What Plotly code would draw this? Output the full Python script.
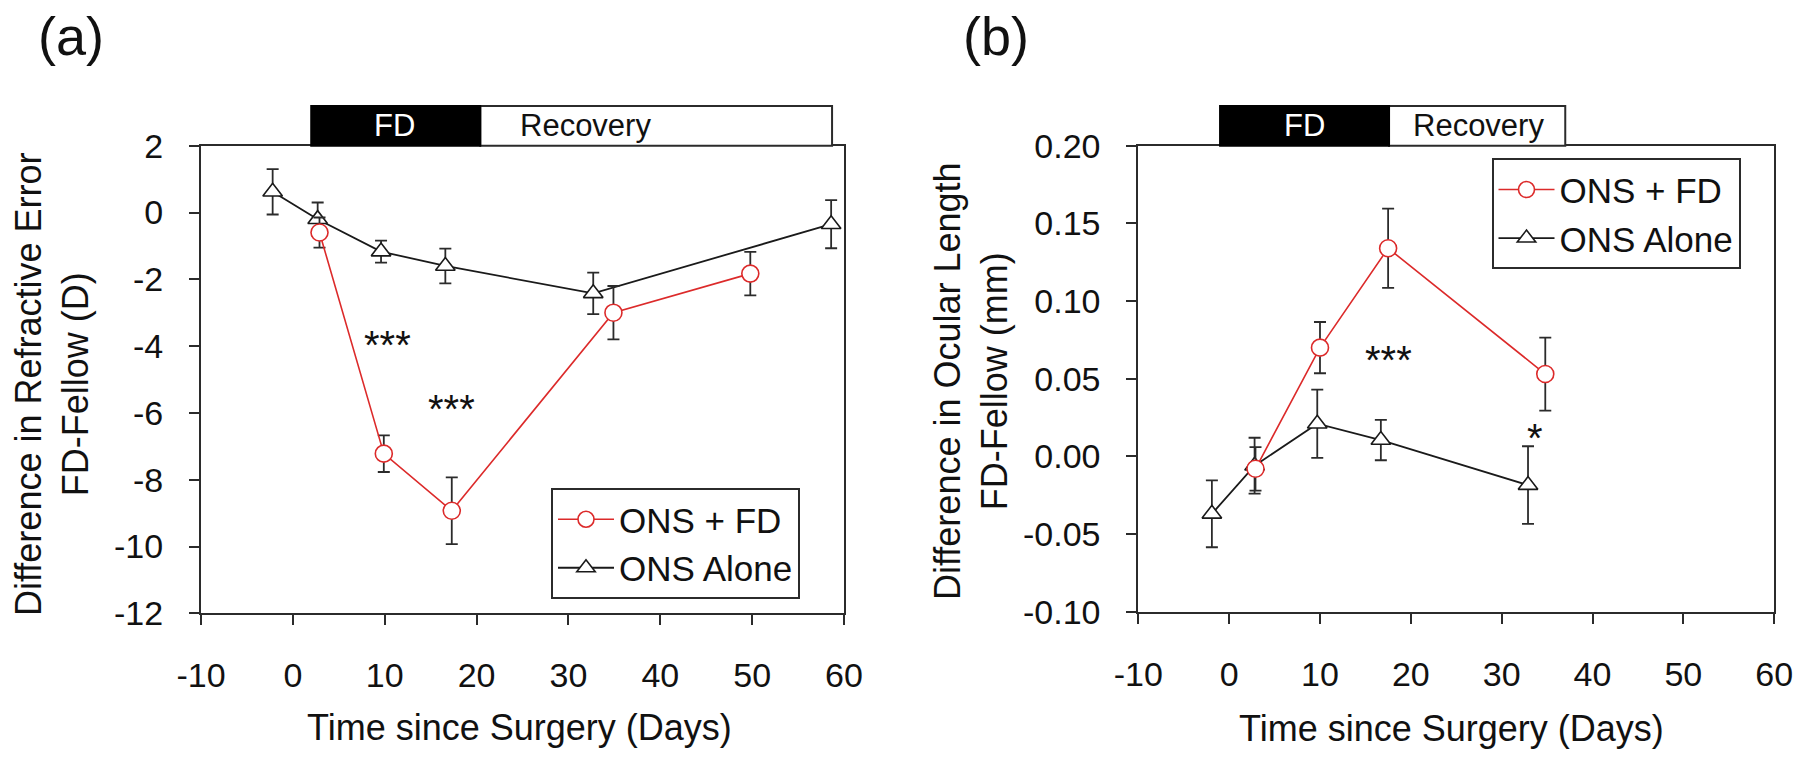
import plotly.graph_objects as go

# ---------------- data ----------------
# Panel (a): refractive error difference (D)
a_fd_days = [2.9, 9.9, 17.3, 34.9, 49.8]
a_fd_vals = [-0.6, -7.22, -8.93, -3.0, -1.83]
a_fd_err = [0.45, 0.55, 1.0, 0.8, 0.65]

a_alone_days = [-2.2, 2.7, 9.6, 16.6, 32.7, 58.6]
a_alone_vals = [0.62, -0.2, -1.17, -1.6, -2.42, -0.35]
a_alone_err = [0.68, 0.5, 0.33, 0.52, 0.62, 0.72]

# Panel (b): ocular length difference (mm)
b_fd_days = [2.9, 10.0, 17.5, 34.8]
b_fd_vals = [-0.008, 0.070, 0.134, 0.053]
b_fd_err = [0.014, 0.0165, 0.0255, 0.0235]

b_alone_days = [-1.9, 2.8, 9.7, 16.7, 32.9]
b_alone_vals = [-0.037, -0.006, 0.021, 0.0105, -0.0185]
b_alone_err = [0.0215, 0.018, 0.022, 0.013, 0.025]

x_ticks = [-10, 0, 10, 20, 30, 40, 50, 60]
x_ticktext = ["-10", "0", "10", "20", "30", "40", "50", "60"]
a_y_ticks = [2, 0, -2, -4, -6, -8, -10, -12]
a_y_ticktext = ["2", "0", "-2", "-4", "-6", "-8", "-10", "-12"]
b_y_ticks = [0.20, 0.15, 0.10, 0.05, 0.00, -0.05, -0.10]
b_y_ticktext = ["0.20", "0.15", "0.10", "0.05", "0.00", "-0.05", "-0.10"]

series_names = ["ONS + FD", "ONS Alone"]

# phase bars (start, end in days)
a_fd_phase = [2.0, 20.4]
a_rec_phase = [20.4, 58.7]
b_fd_phase = [-1.0, 17.6]
b_rec_phase = [17.6, 37.0]

# ---------------- style ----------------
FONT = "Liberation Sans, Arial, Helvetica, sans-serif"
RED = "#dc2a2a"
AX = "#2b2b2b"
W, H = 1800, 765

def px_x(p):
    return p / W

def px_y(p):
    return 1 - p / H

a_xdom = [px_x(201), px_x(844)]
a_ydom = [px_y(613.3), px_y(145.7)]
b_xdom = [px_x(1138.3), px_x(1774.2)]
b_ydom = [px_y(611.7), px_y(145.7)]

fig = go.Figure()

def add_series(xa, ya, leg, fdx, fdy, fde, alx, aly, ale):
    fig.add_trace(go.Scatter(
        x=alx, y=aly, mode="lines+markers", name=series_names[1],
        xaxis=xa, yaxis=ya, legend=leg, legendrank=2,
        line=dict(color="#1a1a1a", width=1.8),
        marker=dict(symbol="triangle-up", size=17, color="white",
                    line=dict(color="#1a1a1a", width=1.6)),
        error_y=dict(type="data", array=ale, color=AX, thickness=1.8, width=6),
    ))
    fig.add_trace(go.Scatter(
        x=fdx, y=fdy, mode="lines+markers", name=series_names[0],
        xaxis=xa, yaxis=ya, legend=leg, legendrank=1,
        line=dict(color=RED, width=1.6),
        marker=dict(symbol="circle", size=17, color="white",
                    line=dict(color=RED, width=1.6)),
        error_y=dict(type="data", array=fde, color=AX, thickness=1.8, width=6),
    ))

add_series("x", "y", "legend", a_fd_days, a_fd_vals, a_fd_err,
           a_alone_days, a_alone_vals, a_alone_err)
add_series("x2", "y2", "legend2", b_fd_days, b_fd_vals, b_fd_err,
           b_alone_days, b_alone_vals, b_alone_err)

common_ax = dict(showline=True, linecolor=AX, linewidth=2, mirror=True,
                 ticks="outside", ticklen=10, tickwidth=2, tickcolor=AX,
                 showgrid=False, zeroline=False, automargin=False,
                 tickfont=dict(family=FONT, size=34, color="#111"))

zero_ax = dict(range=[-10, 60], showline=True, linecolor=AX, linewidth=2,
               ticks="outside", ticklen=9, tickwidth=2, tickcolor=AX,
               tickvals=x_ticks, showticklabels=False, showgrid=False,
               zeroline=False, automargin=False)

leg_common = dict(xanchor="left", yanchor="top", bgcolor="white",
                  bordercolor=AX, borderwidth=2,
                  font=dict(family=FONT, size=35, color="#111"),
                  tracegroupgap=0, itemwidth=56)

fig.update_layout(
    template="none",
    width=W, height=H, autosize=False,
    margin=dict(l=0, r=0, t=0, b=0, pad=0),
    paper_bgcolor="white", plot_bgcolor="white",
    font=dict(family=FONT, color="#111"),
    xaxis=dict(domain=a_xdom, range=[-10, 60], anchor="y",
               tickvals=x_ticks, ticktext=x_ticktext, ticklabelstandoff=21, **common_ax),
    yaxis=dict(domain=a_ydom, range=[-12, 2], anchor="x",
               tickvals=a_y_ticks, ticktext=a_y_ticktext, ticklabelstandoff=19, **common_ax),
    xaxis2=dict(domain=b_xdom, range=[-10, 60], anchor="y2",
                tickvals=x_ticks, ticktext=x_ticktext, ticklabelstandoff=21,
                ticklabeloverflow="allow", **common_ax),
    yaxis2=dict(domain=b_ydom, range=[-0.10, 0.20], anchor="x2",
                tickvals=b_y_ticks, ticktext=b_y_ticktext, ticklabelstandoff=19, **common_ax),
    # zero lines with hanging ticks
    xaxis3=dict(overlaying="x", anchor="free", domain=a_xdom,
                position=a_ydom[0] + (0 - (-12)) / 14 * (a_ydom[1] - a_ydom[0]),
                **zero_ax),
    xaxis4=dict(overlaying="x2", anchor="free", domain=b_xdom,
                position=b_ydom[0] + (0 - (-0.10)) / 0.30 * (b_ydom[1] - b_ydom[0]),
                **zero_ax),
    legend=dict(x=px_x(551), y=px_y(488), **leg_common),
    legend2=dict(x=px_x(1491.5), y=px_y(158.3), **leg_common),
    showlegend=True,
)

# phase bars above the plots
bar_y0, bar_y1 = px_y(145.7), px_y(106)
for xr, fd, rec in [("x", a_fd_phase, a_rec_phase), ("x2", b_fd_phase, b_rec_phase)]:
    fig.add_shape(type="rect", xref=xr, yref="paper", x0=rec[0], x1=rec[1],
                  y0=bar_y0, y1=bar_y1, fillcolor="white",
                  line=dict(color=AX, width=2), layer="above")
    fig.add_shape(type="rect", xref=xr, yref="paper", x0=fd[0], x1=fd[1],
                  y0=bar_y0, y1=bar_y1, fillcolor="black",
                  line=dict(color="black", width=2), layer="above")

bar_mid = (bar_y0 + bar_y1) / 2
phase_labels = [("x", 11.1, "FD", "white"), ("x", 31.9, "Recovery", "#111"),
                ("x2", 8.3, "FD", "white"), ("x2", 27.5, "Recovery", "#111")]
for xr, xv, txt, col in phase_labels:
    fig.add_annotation(xref=xr, yref="paper", x=xv, y=bar_mid, text=txt,
                       showarrow=False, font=dict(family=FONT, size=31, color=col),
                       xanchor="center", yanchor="middle")

# significance markers
stars = [("x", "y", 10.3, -3.72, "***"), ("x", "y", 17.3, -5.64, "***"),
         ("x2", "y2", 17.5, 0.067, "***"), ("x2", "y2", 33.65, 0.0167, "*")]
for xr, yr, xv, yv, txt in stars:
    fig.add_annotation(xref=xr, yref=yr, x=xv, y=yv, text=txt, showarrow=False,
                       font=dict(family=FONT, size=40, color="#111"),
                       xanchor="center", yanchor="middle", yshift=-8)

# panel labels
fig.add_annotation(xref="paper", yref="paper", x=px_x(71), y=px_y(36), text="(a)",
                   showarrow=False, font=dict(family=FONT, size=54, color="#111"),
                   xanchor="center", yanchor="middle")
fig.add_annotation(xref="paper", yref="paper", x=px_x(996), y=px_y(36), text="(b)",
                   showarrow=False, font=dict(family=FONT, size=54, color="#111"),
                   xanchor="center", yanchor="middle")

# axis titles
fig.add_annotation(xref="paper", yref="paper", x=px_x(519), y=px_y(727),
                   text="Time since Surgery (Days)", showarrow=False,
                   font=dict(family=FONT, size=36, color="#111"),
                   xanchor="center", yanchor="middle")
fig.add_annotation(xref="paper", yref="paper", x=px_x(1451), y=px_y(728),
                   text="Time since Surgery (Days)", showarrow=False,
                   font=dict(family=FONT, size=36, color="#111"),
                   xanchor="center", yanchor="middle")
fig.add_annotation(xref="paper", yref="paper", x=px_x(52), y=px_y(384),
                   text="Difference in Refractive Error<br>FD-Fellow (D)", showarrow=False,
                   textangle=-90, font=dict(family=FONT, size=36, color="#111"),
                   xanchor="center", yanchor="middle")
fig.add_annotation(xref="paper", yref="paper", x=px_x(971), y=px_y(381),
                   text="Difference in Ocular Length<br>FD-Fellow (mm)", showarrow=False,
                   textangle=-90, font=dict(family=FONT, size=36, color="#111"),
                   xanchor="center", yanchor="middle")

# the page body has a default margin; remove it so the figure fills the window
fig.write_html("out.html",
               config={"displayModeBar": False},
               post_script="document.body.style.margin='0px';document.body.style.overflow='hidden';")
